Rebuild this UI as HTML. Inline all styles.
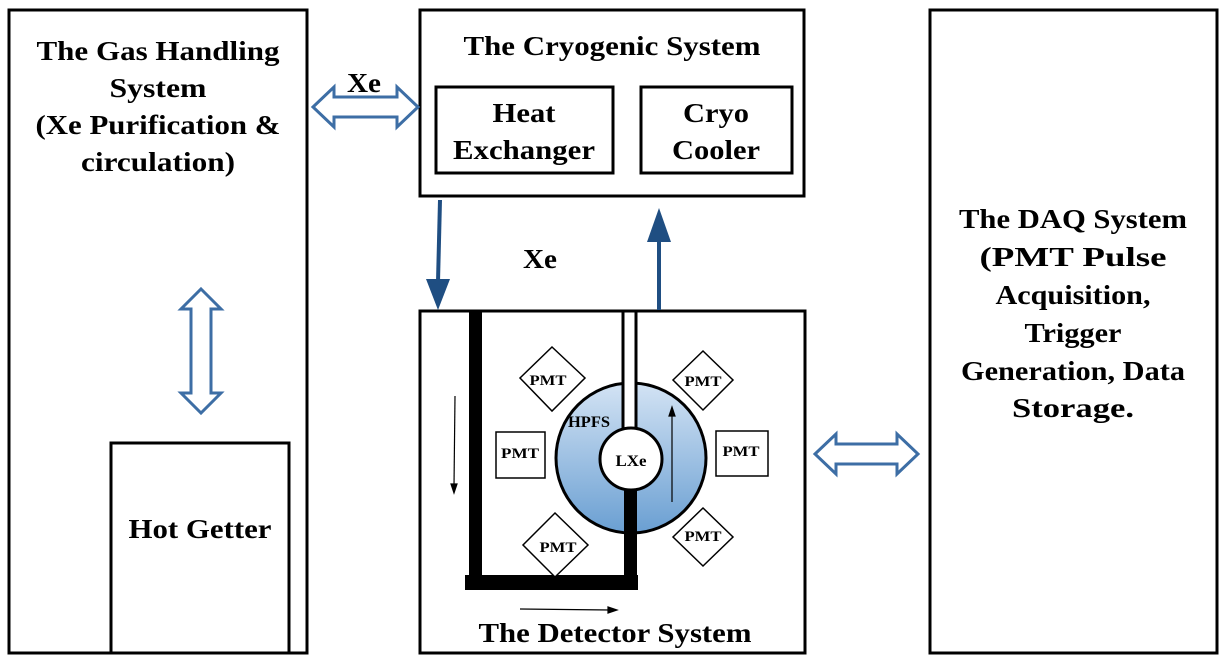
<!DOCTYPE html>
<html><head><meta charset="utf-8"><style>
html,body{margin:0;padding:0;background:#fff}
svg{display:block}
text{font-family:"Liberation Serif",serif;font-weight:bold;fill:#000}
</style></head><body>
<svg width="1225" height="666" viewBox="0 0 1225 666">
<defs>
<linearGradient id="g" x1="0" y1="0" x2="0" y2="1">
<stop offset="0" stop-color="#d3e3f4"/><stop offset="1" stop-color="#6a9fd2"/>
</linearGradient>
</defs>
<g fill="none" stroke="#000" stroke-width="3">
<rect x="9" y="10" width="298" height="643"/>
<rect x="420" y="10" width="384" height="186"/>
<rect x="436" y="87" width="177" height="86"/>
<rect x="641" y="87" width="151" height="86"/>
<rect x="930" y="10" width="287" height="643"/>
<rect x="111" y="443" width="178" height="210"/>
<rect x="420" y="311" width="385" height="342"/>
</g>
<g font-size="27" text-anchor="middle" lengthAdjust="spacingAndGlyphs">
<text x="158" y="60" textLength="243" lengthAdjust="spacingAndGlyphs">The Gas Handling</text>
<text x="158" y="97" textLength="97" lengthAdjust="spacingAndGlyphs">System</text>
<text x="158" y="134" textLength="245" lengthAdjust="spacingAndGlyphs">(Xe Purification &amp;</text>
<text x="158" y="171" textLength="154" lengthAdjust="spacingAndGlyphs">circulation)</text>
<text x="612" y="55" textLength="297" lengthAdjust="spacingAndGlyphs">The Cryogenic System</text>
<text x="524" y="122" textLength="63" lengthAdjust="spacingAndGlyphs">Heat</text>
<text x="524" y="159" textLength="142" lengthAdjust="spacingAndGlyphs">Exchanger</text>
<text x="716" y="122" textLength="66" lengthAdjust="spacingAndGlyphs">Cryo</text>
<text x="716" y="159" textLength="88" lengthAdjust="spacingAndGlyphs">Cooler</text>
<text x="1073" y="228" textLength="228" lengthAdjust="spacingAndGlyphs">The DAQ System</text>
<text x="1073" y="266" textLength="187" lengthAdjust="spacingAndGlyphs">(PMT Pulse</text>
<text x="1073" y="304" textLength="155" lengthAdjust="spacingAndGlyphs">Acquisition,</text>
<text x="1073" y="342" textLength="97" lengthAdjust="spacingAndGlyphs">Trigger</text>
<text x="1073" y="380" textLength="224" lengthAdjust="spacingAndGlyphs">Generation, Data</text>
<text x="1073" y="417" textLength="122" lengthAdjust="spacingAndGlyphs">Storage.</text>
<text x="200" y="538" textLength="143" lengthAdjust="spacingAndGlyphs">Hot Getter</text>
<text x="615" y="642" textLength="273" lengthAdjust="spacingAndGlyphs">The Detector System</text>
<text x="364" y="92" textLength="34" lengthAdjust="spacingAndGlyphs">Xe</text>
<text x="540" y="268" textLength="34" lengthAdjust="spacingAndGlyphs">Xe</text>
</g>
<g fill="#fff" stroke="#3d6ea5" stroke-width="3" stroke-linejoin="miter">
<polygon points="313,107 334,87 334,97 397,97 397,87 418,107 397,127 397,117 334,117 334,127"/>
<polygon points="201,289 221,309 211,309 211,393 221,393 201,413 181,393 191,393 191,309 181,309"/>
<polygon points="815,454 836,434 836,444 897,444 897,434 918,454 897,474 897,464 836,464 836,474"/>
</g>
<g fill="#1f4e82" stroke="#1f4e82">
<line x1="440" y1="200" x2="438" y2="282" stroke-width="4"/>
<polygon points="426,279 450,279 438,310" stroke="none"/>
<line x1="659" y1="310" x2="659" y2="240" stroke-width="4"/>
<polygon points="647,242 671,242 659,208" stroke="none"/>
</g>
<circle cx="631" cy="458" r="75" fill="url(#g)" stroke="#000" stroke-width="3"/>
<rect x="469" y="311" width="13" height="279" fill="#000"/>
<rect x="465" y="575" width="173" height="15" fill="#000"/>
<rect x="624" y="485" width="13" height="92" fill="#000"/>
<rect x="623" y="311" width="13" height="120" fill="#fff" stroke="#000" stroke-width="3"/>
<circle cx="631" cy="459" r="31" fill="#fff" stroke="#000" stroke-width="3"/>
<text x="631" y="466" font-size="16" text-anchor="middle" textLength="31" lengthAdjust="spacingAndGlyphs">LXe</text>
<text x="589" y="427" font-size="16" text-anchor="middle" textLength="42" lengthAdjust="spacingAndGlyphs">HPFS</text>
<g fill="#fff" stroke="#000" stroke-width="1.5">
<rect x="496" y="432" width="49" height="46"/>
<rect x="716" y="431" width="52" height="45"/>
<polygon points="552,347 585,378 552,411 520,378"/>
<polygon points="703,351 733,380 703,410 673,380"/>
<polygon points="555,513 588,545 555,577 523,545"/>
<polygon points="703,508 733,537 703,566 673,537"/>
</g>
<g font-size="15" text-anchor="middle">
<text x="520" y="458" textLength="38" lengthAdjust="spacingAndGlyphs">PMT</text>
<text x="741" y="456" textLength="37" lengthAdjust="spacingAndGlyphs">PMT</text>
<text x="548" y="385" textLength="37" lengthAdjust="spacingAndGlyphs">PMT</text>
<text x="703" y="386" textLength="37" lengthAdjust="spacingAndGlyphs">PMT</text>
<text x="558" y="552" textLength="37" lengthAdjust="spacingAndGlyphs">PMT</text>
<text x="703" y="541" textLength="37" lengthAdjust="spacingAndGlyphs">PMT</text>
</g>
<g stroke="#000" stroke-width="1.2" fill="#000">
<line x1="455" y1="396" x2="454" y2="486"/>
<polygon points="451,484 457,484 454,493"/>
<line x1="672" y1="502" x2="672" y2="414"/>
<polygon points="669,416 675,416 672,407"/>
<line x1="520" y1="609" x2="610" y2="610"/>
<polygon points="608,607 608,613 617,610"/>
</g>
</svg>
</body></html>
